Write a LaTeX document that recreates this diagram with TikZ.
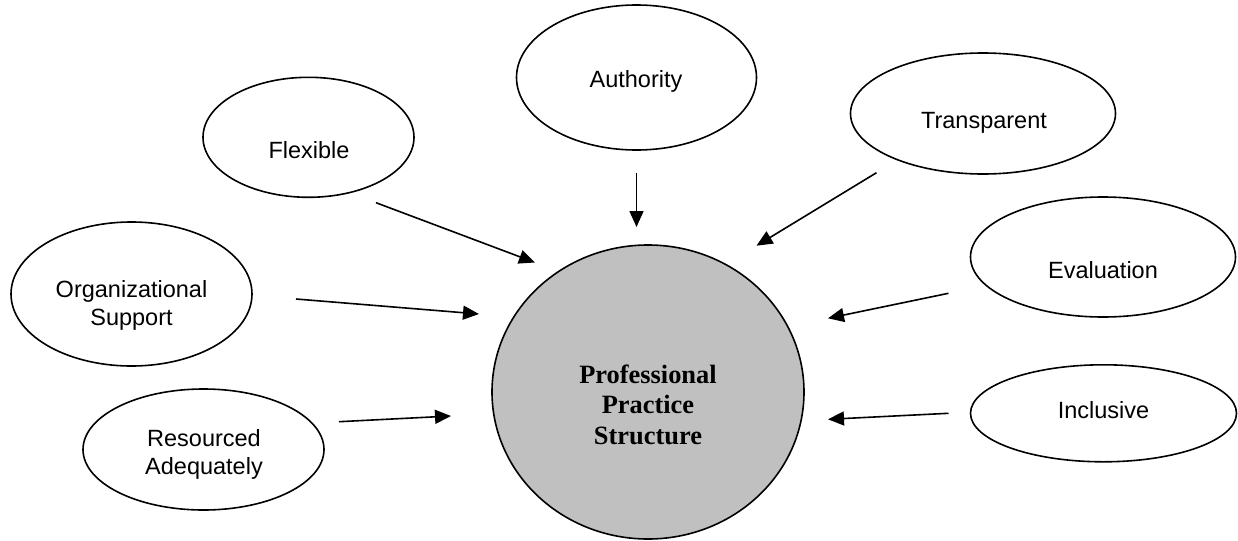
\documentclass[tikz,border=0pt]{standalone}
\usepackage{fontspec}
\setmainfont{Liberation Sans}
\newfontfamily\timesbold{Liberation Serif}
\usetikzlibrary{arrows.meta,shapes.geometric}
\definecolor{ppsgray}{RGB}{192,192,192}
\tikzset{
  bubble/.style={ellipse,draw=black,line width=0.8pt,fill=white,inner sep=0pt},
  lab/.style={anchor=base,inner sep=0pt,font=\fontsize{11.75pt}{14pt}\selectfont},
  core/.style={ellipse,draw=black,line width=0.8pt,fill=ppsgray,inner sep=0pt,
               minimum width=156pt,minimum height=147pt},
  coretext/.style={anchor=base,inner sep=0pt,font=\timesbold\bfseries\fontsize{13.2pt}{15.25pt}\selectfont},
  arr/.style={-{Triangle[length=8pt,width=7pt]},line width=0.8pt,black}
}
\begin{document}
\begin{tikzpicture}[x=0.5pt,y=-0.5pt]
\useasboundingbox (0,0) rectangle (1238,541);
% central structure
\node[core] (pps) at (648,392) {};
\node[coretext] (ppstxt) at (648,383.3) {\begin{tabular}[t]{@{}c@{}}Professional\\Practice\\Structure\end{tabular}};
% surrounding bubbles
\node[bubble,minimum width=120pt,minimum height=72.5pt] (auth) at (636.5,77.5) {};
\node[lab] (authtxt) at (636,87.3) {Authority};
\node[bubble,minimum width=105.5pt,minimum height=60pt] (flex) at (308.5,137.3) {};
\node[lab] (flextxt) at (309,158) {Flexible};
\node[bubble,minimum width=132.5pt,minimum height=60.5pt] (trans) at (983,113.5) {};
\node[lab] (transtxt) at (984,128) {Transparent};
\node[bubble,minimum width=120.5pt,minimum height=72pt] (org) at (131.5,294) {};
\node[lab] (orgtxt) at (131.5,297) {\begin{tabular}[t]{@{}c@{}}Organizational\\Support\end{tabular}};
\node[bubble,minimum width=132.5pt,minimum height=60pt] (eval) at (1103,257) {};
\node[lab] (evaltxt) at (1103,278.3) {Evaluation};
\node[bubble,minimum width=120.5pt,minimum height=60.5pt] (res) at (203.5,449.5) {};
\node[lab] (restxt) at (204,446) {\begin{tabular}[t]{@{}c@{}}Resourced\\Adequately\end{tabular}};
\node[bubble,minimum width=133pt,minimum height=48.5pt] (incl) at (1103.5,413.3) {};
\node[lab] (incltxt) at (1103.5,418.3) {Inclusive};
% arrow end points
\coordinate (flexA) at (376,202.7);  \coordinate (flexB) at (535,262.5);
\coordinate (authA) at (636.5,172.7); \coordinate (authB) at (636.5,227);
\coordinate (transA) at (876.5,172.7); \coordinate (transB) at (756.5,245.7);
\coordinate (orgA) at (296,299);     \coordinate (orgB) at (479,314);
\coordinate (evalA) at (948.5,293.3); \coordinate (evalB) at (828,318.3);
\coordinate (resA) at (339,421.7);   \coordinate (resB) at (451,416);
\coordinate (inclA) at (948.5,413.3); \coordinate (inclB) at (828,419.3);
\draw[arr] (flexA) -- (flexB);
\draw[arr] (authA) -- (authB);
\draw[arr] (transA) -- (transB);
\draw[arr] (orgA) -- (orgB);
\draw[arr] (evalA) -- (evalB);
\draw[arr] (resA) -- (resB);
\draw[arr] (inclA) -- (inclB);
\end{tikzpicture}
\end{document}
